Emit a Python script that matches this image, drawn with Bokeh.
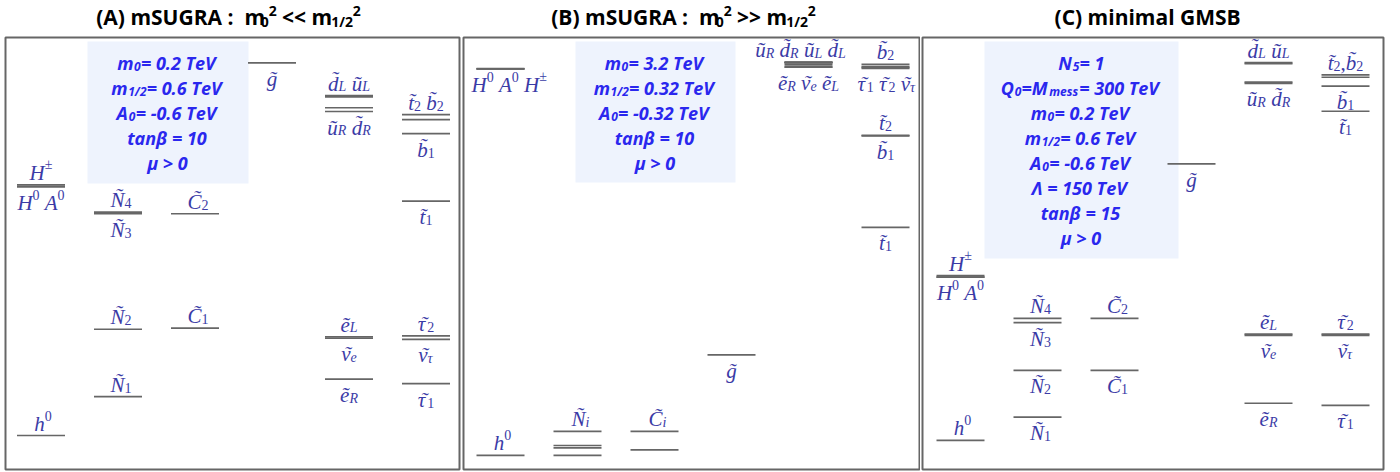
from bokeh.plotting import figure
from bokeh.layouts import row
from bokeh.models import ColumnDataSource, Range1d
from bokeh.core.properties import value
from bokeh.embed import file_html
from bokeh.resources import INLINE

# ---------------------------------------------------------------------------
# Sparticle spectra (masses in GeV, read as level heights)
# column: 0 Higgs bosons, 1 neutralinos, 2 charginos, 3 gluino,
#         4 first-generation squarks / sleptons, 5 third-generation sfermions
# ---------------------------------------------------------------------------
A_particles = ["h0", "H0", "A0", "Hpm", "N1", "N2", "N3", "N4", "C1", "C2", "gl",
               "dL", "uL", "uR", "dR", "eL", "nue", "eR",
               "t2", "b2", "b1", "t1", "tau2", "nutau", "tau1"]
A_column = [0, 0, 0, 0, 1, 1, 1, 1, 2, 2, 3,
            4, 4, 4, 4, 4, 4, 4,
            5, 5, 5, 5, 5, 5, 5]
A_mass = [118, 982, 982, 988, 253, 487, 888, 894, 491, 888, 1412,
          1298, 1294, 1256, 1243, 461, 456, 314,
          1232, 1215, 1166, 932, 464, 452, 298]

B_particles = ["h0", "H0", "A0", "Hpm", "N1", "N2", "N3", "N4", "C1", "C2", "gl",
               "uR", "dR", "uL", "dL", "eR", "nue", "eL",
               "b2", "tau2", "nutau", "tau1", "t2", "b1", "t1"]
B_column = [0, 0, 0, 0, 1, 1, 1, 1, 2, 2, 3,
            4, 4, 4, 4, 4, 4, 4,
            5, 5, 5, 5, 5, 5, 5]
B_mass = [117, 3339, 3339, 3341, 117, 181, 200, 317, 164, 317, 956,
          3395, 3392, 3390, 3388, 3356, 3352, 3372,
          3376, 3358, 3350, 3342, 2785, 2780, 2017]

C_particles = ["h0", "H0", "A0", "Hpm", "N1", "N2", "N3", "N4", "C1", "C2", "gl",
               "dL", "uL", "uR", "dR", "eL", "nue", "eR",
               "t2", "b2", "b1", "t1", "tau2", "nutau", "tau1"]
C_column = [0, 0, 0, 0, 1, 1, 1, 1, 2, 2, 3,
            4, 4, 4, 4, 4, 4, 4,
            5, 5, 5, 5, 5, 5, 5]
C_mass = [101, 668, 668, 673, 182, 344, 510, 525, 344, 525, 1061,
          1413, 1409, 1345, 1341, 470, 466, 230,
          1370, 1362, 1331, 1244, 470, 466, 223]

# model parameters shown in the shaded boxes ("b" = normal, "s" = subscript)
A_params = [[("m", "b"), ("0", "s"), ("= 0.2 TeV", "b")],
            [("m", "b"), ("1/2", "s"), ("= 0.6 TeV", "b")],
            [("A", "b"), ("0", "s"), ("= -0.6 TeV", "b")],
            [("tanβ = 10", "b")],
            [("μ > 0", "b")]]
B_params = [[("m", "b"), ("0", "s"), ("= 3.2 TeV", "b")],
            [("m", "b"), ("1/2", "s"), ("= 0.32 TeV", "b")],
            [("A", "b"), ("0", "s"), ("= -0.32 TeV", "b")],
            [("tanβ = 10", "b")],
            [("μ > 0", "b")]]
C_params = [[("N", "b"), ("5", "s"), ("= 1", "b")],
            [("Q", "b"), ("0", "s"), ("=M", "b"), ("mess", "s"), ("= 300 TeV", "b")],
            [("m", "b"), ("0", "s"), ("= 0.2 TeV", "b")],
            [("m", "b"), ("1/2", "s"), ("= 0.6 TeV", "b")],
            [("A", "b"), ("0", "s"), ("= -0.6 TeV", "b")],
            [("Λ = 150 TeV", "b")],
            [("tanβ = 15", "b")],
            [("μ > 0", "b")]]

NB = "\u00a0"   # kept as-is by the SVG text renderer
A_title = [("(A) mSUGRA :" + NB + NB + "m", "b"), ("0", "s"), ("2", "p"),
           (NB + "<< m", "b"), ("1/2", "s"), ("2", "p")]
B_title = [("(B) mSUGRA :" + NB + NB + "m", "b"), ("0", "s"), ("2", "p"),
           (NB + ">> m", "b"), ("1/2", "s"), ("2", "p")]
C_title = [("(C) minimal GMSB", "b")]

# ---------------------------------------------------------------------------
# level labels: (particle, side, pieces, alignment, horizontal shift in px)
# ---------------------------------------------------------------------------
TL = "\u0303"
GREEK = "ντ"


def tl(c):
    return c + TL


def sym(c, sub):
    return [(tl(c), "b"), (sub, "s")]


SP = [(" ", "b")]

A_labels = [
    ("Hpm", "above", [("H", "b"), ("±", "p")], "c", 0),
    ("H0", "below", [("H", "b"), ("0", "p")] + SP + [("A", "b"), ("0", "p")], "c", 0),
    ("h0", "above", [("h", "b"), ("0", "p")], "c", 2),
    ("N4", "above", sym("N", "4"), "c", 3),
    ("N3", "below", sym("N", "3"), "c", 3),
    ("N2", "above", sym("N", "2"), "c", 3),
    ("N1", "above", sym("N", "1"), "c", 3),
    ("C2", "above", sym("C", "2"), "c", 3),
    ("C1", "above", sym("C", "1"), "c", 3),
    ("gl", "below", [(tl("g"), "b")], "c", 0),
    ("dL", "above", sym("d", "L") + SP + sym("u", "L"), "c", 0),
    ("dR", "below", sym("u", "R") + SP + sym("d", "R"), "c", 0),
    ("eL", "above", sym("e", "L"), "c", 0),
    ("nue", "below", sym("ν", "e"), "c", 0),
    ("eR", "below", sym("e", "R"), "c", 0),
    ("t2", "above", sym("t", "2") + SP + sym("b", "2"), "c", 0),
    ("b1", "below", sym("b", "1"), "c", 0),
    ("t1", "below", sym("t", "1"), "c", 0),
    ("tau2", "above", sym("τ", "2"), "c", 0),
    ("nutau", "below", sym("ν", "τ"), "c", 0),
    ("tau1", "below", sym("τ", "1"), "c", 0),
]

B_labels = [
    ("H0", "below", [("H", "b"), ("0", "p")] + SP + [("A", "b"), ("0", "p")] + SP + [("H", "b"), ("±", "p")], "l", -29),
    ("h0", "above", [("h", "b"), ("0", "p")], "c", 2),
    ("N4", "above", sym("N", "i"), "c", 3),
    ("C2", "above", sym("C", "i"), "c", 3),
    ("gl", "below", [(tl("g"), "b")], "c", 0),
    ("uR", "above", sym("u", "R") + SP + sym("d", "R") + SP + sym("u", "L") + SP + sym("d", "L"), "c", -8),
    ("nue", "below", sym("e", "R") + SP + sym("ν", "e") + SP + sym("e", "L"), "c", 0),
    ("b2", "above", sym("b", "2"), "c", 0),
    ("tau1", "below", sym("τ", "1") + SP + sym("τ", "2") + SP + sym("ν", "τ"), "l", -28),
    ("t2", "above", sym("t", "2"), "c", 0),
    ("b1", "below", sym("b", "1"), "c", 0),
    ("t1", "below", sym("t", "1"), "c", 0),
]

C_labels = [
    ("Hpm", "above", [("H", "b"), ("±", "p")], "c", 0),
    ("H0", "below", [("H", "b"), ("0", "p")] + SP + [("A", "b"), ("0", "p")], "c", 0),
    ("h0", "above", [("h", "b"), ("0", "p")], "c", 2),
    ("N4", "above", sym("N", "4"), "c", 3),
    ("N3", "below", sym("N", "3"), "c", 3),
    ("C2", "above", sym("C", "2"), "c", 3),
    ("N2", "below", sym("N", "2"), "c", 3),
    ("C1", "below", sym("C", "1"), "c", 3),
    ("N1", "below", sym("N", "1"), "c", 3),
    ("gl", "below", [(tl("g"), "b")], "c", 0),
    ("dL", "above", sym("d", "L") + SP + sym("u", "L"), "c", 0),
    ("dR", "below", sym("u", "R") + SP + sym("d", "R"), "c", 0),
    ("t2", "above", sym("t", "2") + [(",", "b")] + sym("b", "2"), "c", 0),
    ("b1", "below", sym("b", "1"), "c", 0),
    ("t1", "below", sym("t", "1"), "c", 0),
    ("eL", "above", sym("e", "L"), "c", 0),
    ("nue", "below", sym("ν", "e"), "c", 0),
    ("eR", "below", sym("e", "R"), "c", 0),
    ("tau2", "above", sym("τ", "2"), "c", 0),
    ("nutau", "below", sym("ν", "τ"), "c", 0),
    ("tau1", "below", sym("τ", "1"), "c", 0),
]

# ---------------------------------------------------------------------------
# styling and geometry (pixels)
# ---------------------------------------------------------------------------
COL_PX = 77            # horizontal spacing between columns
HALF = 24 / COL_PX     # half length of a level line
BOX_TOP, BOX_BOTTOM = 37, 469   # vertical extent of each panel frame
FIG_H = 472
LINE_COLOR = "#666666"
LABEL_COLOR = "#3b3ba6"
PARAM_COLOR = "#2a27ee"
BOX_FILL = "#eef3fd"
FRAME_COLOR = "#666666"

SERIF_FONT = "Liberation Serif"
SANS_FONT = "Open Sans"
LBL_BIG, LBL_SMALL, LBL_DROP, LBL_RISE = 21, 14, 3, 8
ABOVE, BELOW = -12, 16

SERIF_W = {"A": .611, "C": .667, "H": .722, "L": .556, "N": .667, "R": .611,
           "b": .5, "d": .5, "e": .444, "g": .5, "h": .5, "i": .278, "t": .278,
           "u": .5, "ν": .444, "τ": .444, " ": .25, ",": .25, "±": .549, "˜": .333}
SANS_W = {"m": .94, "A": .68, "N": .80, "Q": .78, "M": .97, "T": .59, "V": .63,
          "e": .59, "s": .49, "t": .41, "a": .62, "n": .64, "β": .64, "μ": .65,
          "Λ": .66, "=": .57, ">": .57, "<": .57, "-": .32, ".": .29, " ": .26,
          NB: .26, "/": .40, "(": .30, ")": .30, "S": .55, "U": .73, "G": .72,
          "R": .67, "B": .68, "C": .63, "i": .30, "l": .30, ":": .28}


def text_width(text, table, size, default):
    return size * sum(table.get(ch, default) for ch in text if ch != TL)


def label_source(labels, names, cols, masses):
    idx = {n: i for i, n in enumerate(names)}
    d = dict(x=[], y=[], text=[], xo=[], yo=[], fs=[], style=[])

    def put(i, t, xo, yo, size, style):
        d["x"].append(cols[i])
        d["y"].append(masses[i])
        d["text"].append(t)
        d["xo"].append(xo)
        d["yo"].append(yo)
        d["fs"].append(f"{size}px")
        d["style"].append(style)

    for anchor, side, pieces, align, dx in labels:
        i = idx[anchor]
        sizes = [LBL_BIG if k == "b" else LBL_SMALL for _, k in pieces]
        widths = [text_width(t, SERIF_W, s, .5) for (t, _), s in zip(pieces, sizes)]
        x0 = dx - sum(widths) / 2 if align == "c" else dx
        base = ABOVE if side == "above" else BELOW
        for (t, k), s, w in zip(pieces, sizes, widths):
            yo = base + (LBL_DROP if k == "s" else -LBL_RISE if k == "p" else 0)
            style = "italic" if any(c.isalpha() for c in t) else "normal"
            if TL in t and t[0] in GREEK:
                # Greek letters: place a spacing tilde over the glyph
                put(i, t[0], x0, yo, s, style)
                tw = SERIF_W["˜"] * s
                put(i, "˜", x0 + w / 2 - tw / 2 + 1.5, yo, s, "italic")
            elif t.strip():
                put(i, t, x0, yo, s, style)
            x0 += w
    return ColumnDataSource(d)


def param_source(lines, xc, ytop):
    big, small = 18, 12
    d = dict(x=[], y=[], text=[], xo=[], yo=[], fs=[])
    for j, pieces in enumerate(lines):
        sizes = [big if k == "b" else small for _, k in pieces]
        widths = [text_width(t, SANS_W, s, .57) for (t, _), s in zip(pieces, sizes)]
        x0 = -sum(widths) / 2
        for (t, k), s, w in zip(pieces, sizes, widths):
            d["x"].append(xc)
            d["y"].append(ytop)
            d["text"].append(t)
            d["xo"].append(x0)
            d["yo"].append(21 + 25 * j + (4 if k == "s" else 0))
            d["fs"].append(f"{s}px")
            x0 += w
    return ColumnDataSource(d)


def title_source(pieces, xc, ytop):
    big, small = 21, 14
    d = dict(x=[], y=[], text=[], xo=[], yo=[], fs=[])
    sizes = [big if k == "b" else small for _, k in pieces]
    widths = [text_width(t, SANS_W, s, .57) for (t, _), s in zip(pieces, sizes)]
    x0 = -sum(widths) / 2
    for (t, k), s, w in zip(pieces, sizes, widths):
        d["x"].append(xc)
        d["y"].append(ytop)
        d["text"].append(t)
        d["xo"].append(x0)
        d["yo"].append(-21 + (5 if k == "s" else -6 if k == "p" else 0))
        d["fs"].append(f"{s}px")
        x0 += w
    return ColumnDataSource(d)


def make_panel(names, cols, masses, labels, params, title, ymax,
               width, col0_px, frame_px, box_px, title_shift):
    per_px = ymax / (BOX_BOTTOM - BOX_TOP)          # GeV per pixel
    xs = -col0_px / COL_PX
    xe = xs + width / COL_PX
    to_x = lambda px: xs + px / COL_PX
    to_y = lambda py: (BOX_BOTTOM - py) * per_px

    p = figure(width=width, height=FIG_H,
               x_range=Range1d(xs, xe), y_range=Range1d(to_y(FIG_H), to_y(0)),
               x_axis_type=None, y_axis_type=None,
               toolbar_location=None, output_backend="svg",
               min_border=0)
    p.outline_line_color = None
    p.background_fill_color = "white"
    p.border_fill_color = "white"

    # panel frame
    fl, fr = frame_px
    p.quad(left=[to_x(fl)], right=[to_x(fr)], top=[ymax], bottom=[0],
           fill_color=None, line_color=FRAME_COLOR, line_width=2)

    # shaded parameter box
    bl, br, bt, bb = box_px
    p.quad(left=[to_x(bl)], right=[to_x(br)], top=[to_y(bt)], bottom=[to_y(bb)],
           fill_color=BOX_FILL, line_color=None)
    ps = param_source(params, to_x((bl + br) / 2), to_y(bt))
    p.text(x="x", y="y", text="text", x_offset="xo", y_offset="yo",
           text_font_size="fs", text_font=value(SANS_FONT),
           text_font_style="bold italic", text_color=PARAM_COLOR,
           text_align="left", text_baseline="alphabetic", source=ps)

    # mass levels
    lv = ColumnDataSource(dict(x0=[c - HALF for c in cols], x1=[c + HALF for c in cols], y=masses))
    p.segment(x0="x0", y0="y", x1="x1", y1="y", source=lv,
              line_color=LINE_COLOR, line_width=1.7)

    # particle names
    ls = label_source(labels, names, cols, masses)
    p.text(x="x", y="y", text="text", x_offset="xo", y_offset="yo",
           text_font_size="fs", text_font=value(SERIF_FONT),
           text_font_style="style", text_color=LABEL_COLOR,
           text_align="left", text_baseline="alphabetic", source=ls)

    # panel heading
    ts = title_source(title, to_x((fl + fr) / 2 + title_shift), ymax)
    p.text(x="x", y="y", text="text", x_offset="xo", y_offset="yo",
           text_font_size="fs", text_font=value(SANS_FONT),
           text_font_style="bold", text_color="black",
           text_align="left", text_baseline="alphabetic", source=ts)
    return p


pA = make_panel(A_particles, A_column, A_mass, A_labels, A_params, A_title, 1500,
                461, 40.5, (5, 459), (87, 248, 41, 183), -4)
pB = make_panel(B_particles, B_column, B_mass, B_labels, B_params, B_title, 3600,
                459, 39, (2, 458), (114, 274, 41, 182), -8)
pC = make_panel(C_particles, C_column, C_mass, C_labels, C_params, C_title, 1500,
                480, 40, (2, 463), (64, 258, 41, 258), -7)

layout = row(pA, pB, pC, spacing=0)
open("out.html", "w").write(file_html(layout, INLINE))
